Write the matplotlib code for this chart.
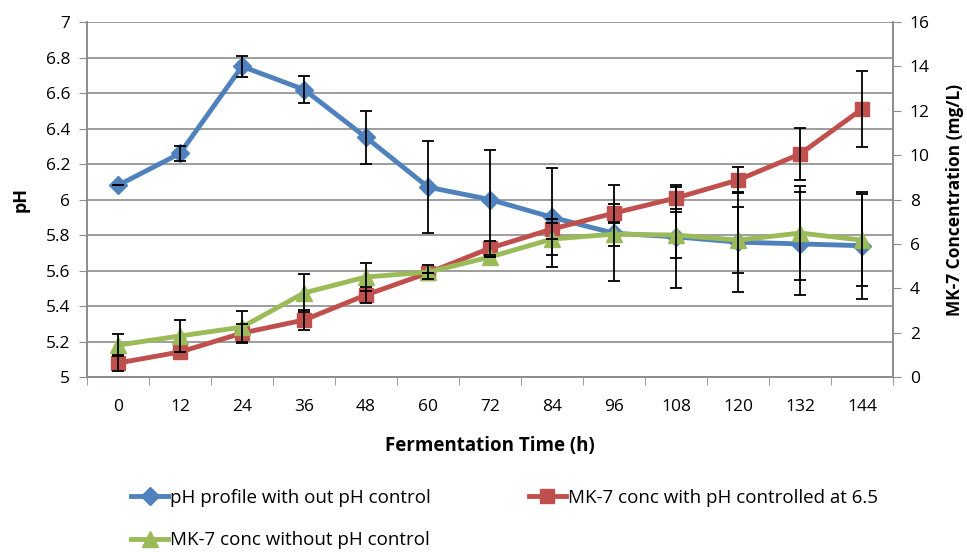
import matplotlib
matplotlib.use("Agg")
import matplotlib.pyplot as plt
import numpy as np

plt.rcParams['font.family'] = ['Open Sans', 'DejaVu Sans']

# fermentation time points (h)
hours = [0, 12, 24, 36, 48, 60, 72, 84, 96, 108, 120, 132, 144]

# pH without pH control (left axis)
ph_vals = [6.08, 6.26, 6.75, 6.62, 6.35, 6.07, 6.00, 5.90, 5.81, 5.79, 5.76, 5.75, 5.74]
ph_err = [0.0, 0.04, 0.06, 0.075, 0.15, 0.26, 0.28, 0.28, 0.27, 0.29, 0.28, 0.29, 0.30]

# MK-7 concentration, pH controlled at 6.5 (right axis)
mk7_ctrl = [0.63, 1.13, 1.98, 2.57, 3.70, 4.69, 5.81, 6.67, 7.39, 8.07, 8.88, 10.05, 12.08]
mk7_ctrl_err = [0.36, 0.0, 0.4, 0.45, 0.36, 0.0, 0.3, 0.45, 0.43, 0.5, 0.59, 1.17, 1.71]

# MK-7 concentration without pH control (right axis)
mk7_free = [1.44, 1.85, 2.25, 3.79, 4.51, 4.73, 5.41, 6.22, 6.44, 6.40, 6.17, 6.49, 6.17]
mk7_free_err = [0.5, 0.72, 0.72, 0.86, 0.63, 0.3, 0.0, 0.72, 0.55, 1.05, 1.5, 2.1, 2.07]

blue = '#4F81BD'
red = '#C0504D'
green = '#9BBB59'
grid_c = '#8C8C8C'

x = np.arange(len(hours))

fig = plt.figure(figsize=(9.67, 5.52), dpi=100)
ax = fig.add_axes([0.09, 0.317, 0.8335, 0.643])
ax2 = ax.twinx()

ebar = dict(ecolor='black', elinewidth=1.3, capsize=4, capthick=1.3)

ax.errorbar(x, ph_vals, yerr=ph_err, fmt='none', zorder=5, **ebar)
l1, = ax.plot(x, ph_vals, color=blue, lw=3.5, marker='D', ms=9,
              label='pH profile with out pH control', zorder=3)

ax2.plot(x, mk7_ctrl, color=red, lw=3.5, marker='s', ms=10, zorder=3)
l2, = ax2.plot([], [], color=red, lw=3.5, marker='s', ms=10,
               label='MK-7 conc with pH controlled at 6.5')
ax2.plot(x, mk7_free, color=green, lw=3.5, marker='^', ms=11, zorder=4)
l3, = ax2.plot([], [], color=green, lw=3.5, marker='^', ms=11,
               label='MK-7 conc without pH control')
ax2.errorbar(x, mk7_ctrl, yerr=mk7_ctrl_err, fmt='none', zorder=5, **ebar)
ax2.errorbar(x, mk7_free, yerr=mk7_free_err, fmt='none', zorder=5, **ebar)

ax.set_xlim(-0.5, len(hours) - 0.5)
ax.set_ylim(5, 7)
ax2.set_ylim(0, 16)
ax.set_yticks(np.arange(5, 7.01, 0.2))
ax.set_yticklabels(['5', '5.2', '5.4', '5.6', '5.8', '6', '6.2', '6.4', '6.6', '6.8', '7'])
ax2.set_yticks(np.arange(0, 17, 2))

ax.set_xticks(x)
ax.set_xticklabels([str(h) for h in hours])
ax.set_xticks(np.arange(-0.5, len(hours)), minor=True)
ax.tick_params(axis='x', which='major', length=0, pad=16, labelsize=12.5)
ax.tick_params(axis='x', which='minor', length=6, color=grid_c, direction='out')
ax.tick_params(axis='y', length=6, color=grid_c, labelsize=12.5, pad=6)
ax2.tick_params(axis='y', length=6, color=grid_c, labelsize=12.5, pad=6)

ax.yaxis.grid(True, color=grid_c, lw=1.2)
ax.set_axisbelow(True)
for a in (ax, ax2):
    a.spines['top'].set_visible(False)
    for s in ('left', 'right', 'bottom'):
        a.spines[s].set_color(grid_c)
        a.spines[s].set_linewidth(1.2)

ax.set_xlabel('Fermentation Time (h)', fontsize=13.5, fontweight='bold', labelpad=15)
ax.set_ylabel('pH', fontsize=13, fontweight='bold', labelpad=12)
ax2.set_ylabel('MK-7 Concentration (mg/L)', fontsize=12.5, fontweight='bold', labelpad=12)

fig.legend(handles=[l1, l3, l2], loc='upper left', bbox_to_anchor=(0.118, 0.145),
           ncol=2, frameon=False, fontsize=13.5, handlelength=2.0, handletextpad=0.1,
           columnspacing=5.2, labelspacing=1.3)

fig.savefig('out.png', dpi=100)
